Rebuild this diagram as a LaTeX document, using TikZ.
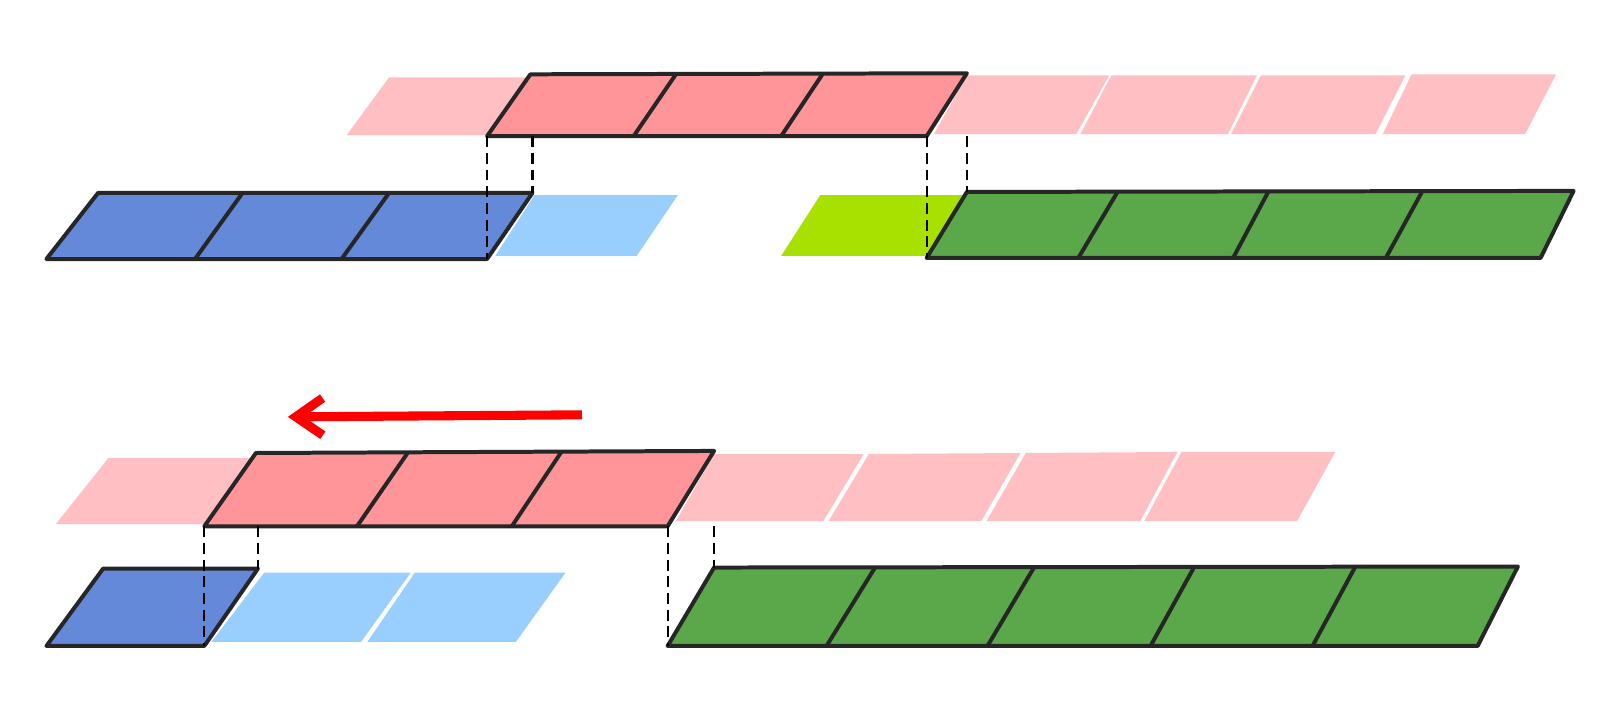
\documentclass[tikz,border=0pt]{standalone}
\usetikzlibrary{arrows.meta}
\definecolor{redcell}{RGB}{255,149,153}
\definecolor{pinkcell}{RGB}{255,191,195}
\definecolor{bluecell}{RGB}{99,137,216}
\definecolor{skycell}{RGB}{153,207,255}
\definecolor{greencell}{RGB}{91,168,74}
\definecolor{limecell}{RGB}{168,224,0}

\begin{document}
\begin{tikzpicture}[x=0.01cm, y=-0.01cm,
    block/.style={draw=black!85, line width=1.1pt, line join=round},
    divider/.style={black!85, line width=1.1pt},
    guide/.style={black, line width=0.6pt, dash pattern=on 3pt off 1.6pt},
    shiftarrow/.style={red, line width=2.5pt, -{Straight Barb[length=2.6mm,width=3.6mm]}}]

    \useasboundingbox (0,0) rectangle (1568,697);

    % Upper picture: faded cells
    \fill[pinkcell] (336,131) -- (377,75) -- (530,75) -- (490,131) -- cycle;
    \fill[pinkcell] (905,130) -- (937,73) -- (1075,73) -- (1043,130) -- cycle;
    \fill[pinkcell] (1047,130) -- (1077,73) -- (1218,73) -- (1190,130) -- cycle;
    \fill[pinkcell] (1193,130) -- (1222,73) -- (1362,73) -- (1333,130) -- cycle;
    \fill[pinkcell] (1340,130) -- (1368,72) -- (1508,72) -- (1478,130) -- cycle;
    \fill[skycell] (480,248) -- (518,189) -- (657,189) -- (617,248) -- cycle;
    \fill[limecell] (757,248) -- (795,189) -- (937,189) -- (898,248) -- cycle;

    % Upper picture: window and blocks
    \draw[block, fill=redcell] (472,132) coordinate (winAbl) -- (514,72) coordinate (winAtl)
        -- (937,71) coordinate (winAtr) -- (898,132) coordinate (winAbr) -- cycle;
    \draw[divider] (614,132) -- (655,72);
    \draw[divider] (757,132) -- (797,72);

    \draw[block, fill=bluecell] (45,251) -- (95,187) -- (516,187) coordinate (blueAtr)
        -- (472,251) coordinate (blueAbr) -- cycle;
    \draw[divider] (189,251) -- (235,187);
    \draw[divider] (331,251) -- (377,187);

    \draw[block, fill=greencell] (898,250) coordinate (greenAbl) -- (937,186) coordinate (greenAtl)
        -- (1525,185) -- (1493,250) -- cycle;
    \draw[divider] (1045,250) -- (1083,186);
    \draw[divider] (1195,250) -- (1229,186);
    \draw[divider] (1343,250) -- (1378,186);

    % Upper picture: guides
    \coordinate (winAb2) at (516,132);
    \coordinate (winAb3) at (937,132);
    \draw[guide] (winAbl) -- (blueAbr);
    \draw[guide] (winAb2) -- (blueAtr);
    \draw[guide] (winAbr) -- (greenAbl);
    \draw[guide] (winAb3) -- (greenAtl);

    % Lower picture: move
    \coordinate (moveTail) at (564,402);
    \coordinate (moveHead) at (279,404);
    \draw[shiftarrow] (moveTail) -- (moveHead);

    % Lower picture: faded cells
    \fill[pinkcell] (54,508) -- (105,444) -- (260,444) -- (210,508) -- cycle;
    \fill[pinkcell] (655,505) -- (692,440) -- (837,440) -- (798,505) -- cycle;
    \fill[pinkcell] (803,505) -- (842,440) -- (989,439) -- (951,505) -- cycle;
    \fill[pinkcell] (956,505) -- (994,439) -- (1141,438) -- (1105,505) -- cycle;
    \fill[pinkcell] (1109,505) -- (1145,438) -- (1294,438) -- (1257,505) -- cycle;
    \fill[skycell] (205,622) -- (256,555) -- (398,555) -- (350,622) -- cycle;
    \fill[skycell] (356,622) -- (402,555) -- (548,555) -- (500,622) -- cycle;

    % Lower picture: window and blocks
    \draw[block, fill=redcell] (198,510) coordinate (winBbl) -- (248,439)
        -- (692,437) -- (647,510) coordinate (winBbr) -- cycle;
    \draw[divider] (346,510) -- (395,439);
    \draw[divider] (496,510) -- (544,438);

    \draw[block, fill=bluecell] (45,626) -- (100,551) -- (250,551) coordinate (blueBtr)
        -- (198,626) coordinate (blueBbr) -- cycle;

    \draw[block, fill=greencell] (647,626) coordinate (greenBbl) -- (692,550) coordinate (greenBtl)
        -- (1471,549) -- (1432,626) -- cycle;
    \draw[divider] (801,626) -- (848,550);
    \draw[divider] (957,626) -- (1002,550);
    \draw[divider] (1115,626) -- (1157,550);
    \draw[divider] (1272,626) -- (1313,550);

    % Lower picture: guides
    \coordinate (winBb2) at (250,510);
    \coordinate (winBb3) at (692,510);
    \draw[guide] (winBbl) -- (blueBbr);
    \draw[guide] (winBb2) -- (blueBtr);
    \draw[guide] (winBbr) -- (greenBbl);
    \draw[guide] (winBb3) -- (greenBtl);
\end{tikzpicture}
\end{document}
